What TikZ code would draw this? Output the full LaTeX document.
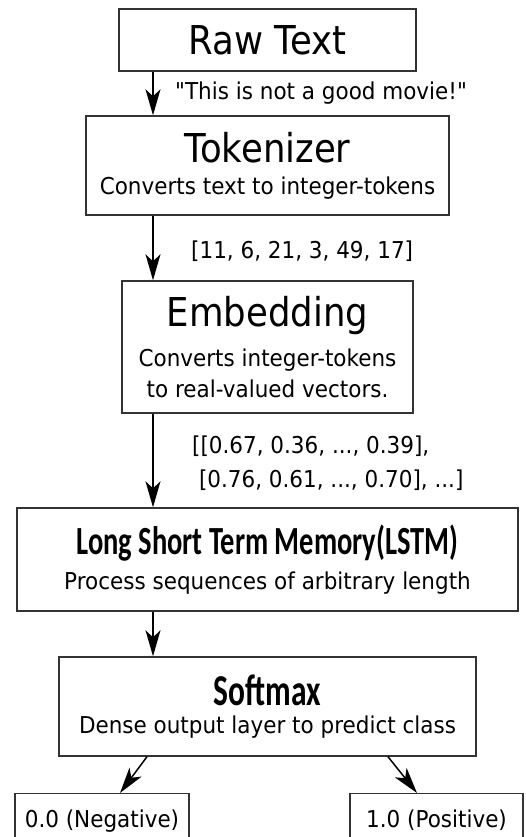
\documentclass[tikz,border=0pt]{standalone}
\usepackage{fontspec}
\setmainfont{DejaVu Sans}
\newfontfamily\carlito{Carlito}
\usetikzlibrary{arrows.meta}

% stretched text, as in the scan
\newcommand{\gross}[1]{\scalebox{1}[1.12]{\fontsize{35.5}{40}\selectfont #1}}
\newcommand{\fett}[2]{\scalebox{1}[1.4]{\fontsize{#1}{34}\selectfont\carlito\bfseries #2}}
\newcommand{\zeile}[1]{\scalebox{1}[1.08]{#1}}

\begin{document}
\begin{tikzpicture}[x=1pt,y=-1pt,
    >={Stealth[length=26pt,width=15pt,inset=7pt]},
    kasten/.style={draw=black!80, line width=1.4pt, rectangle, align=center, inner sep=0pt,
      font=\fontsize{21.5}{31}\selectfont},
    klein/.style={font=\fontsize{21.5}{28}\selectfont, inner sep=0pt},
    pfeil/.style={->, line width=1.5pt, black},
]

\useasboundingbox (0,0) rectangle (526,837);

\node [kasten, minimum width=297pt, minimum height=62pt] (raw) at (267.5,40)
  {\gross{Raw Text}};
\node [kasten, minimum width=363pt, minimum height=99pt] (tok) at (267.5,165.5)
  {\gross{Tokenizer}\\[1pt]
   \zeile{Converts text to integer-tokens}};
\node [kasten, minimum width=291pt, minimum height=132pt] (emb) at (267.5,347)
  {\gross{Embedding}\\[9pt]
   \zeile{Converts integer-tokens}\\
   \zeile{to real-valued vectors.}};
\node [kasten, minimum width=501pt, minimum height=103pt] (lstm) at (267.5,559.5)
  {\fett{28.5}{Long Short Term Memory(LSTM)}\\[4pt]
   \zeile{Process sequences of arbitrary length}};
\node [kasten, minimum width=417pt, minimum height=99pt] (soft) at (267.5,706.5)
  {\fett{31.5}{Softmax}\\[-3pt]
   \zeile{Dense output layer to predict class}};

\begin{scope}
\clip (0,0) rectangle (526,837);
\node [kasten, minimum width=174pt, text height=34pt, text depth=30pt, anchor=north] (neg) at (102,793)
  {\zeile{0.0 (Negative)}};
\node [kasten, minimum width=173pt, text height=34pt, text depth=30pt, anchor=north] (pos) at (436.5,793)
  {\zeile{1.0 (Positive)}};
\end{scope}

% labels on the arrows
\node [klein, anchor=base west] (satz) at (175,100) {\zeile{\textquotedbl This is not a good movie!\textquotedbl}};
\node [klein, anchor=base west] (ids) at (191,258) {\zeile{[11, 6, 21, 3, 49, 17]}};
\node [klein, anchor=base west, align=left] (vek) at (192,487)
  {\zeile{[[0.67, 0.36, ..., 0.39],}\\[6pt] \ \zeile{[0.76, 0.61, ..., 0.70], ...]}};

\coordinate (ax) at (153,0);
\coordinate (nl) at (147,0);
\coordinate (nr) at (388,0);
\coordinate (ml) at (120,0);
\coordinate (mr) at (417,0);

\draw [pfeil] (raw.south -| ax) -- (tok.north -| ax);
\draw [pfeil] (tok.south -| ax) -- (emb.north -| ax);
\draw [pfeil] (emb.south -| ax) -- (lstm.north -| ax);
\draw [pfeil] (lstm.south -| ax) -- (soft.north -| ax);
\draw [pfeil] (soft.south -| nl) -- (neg.north -| ml);
\draw [pfeil] (soft.south -| nr) -- (pos.north -| mr);

\end{tikzpicture}
\end{document}
